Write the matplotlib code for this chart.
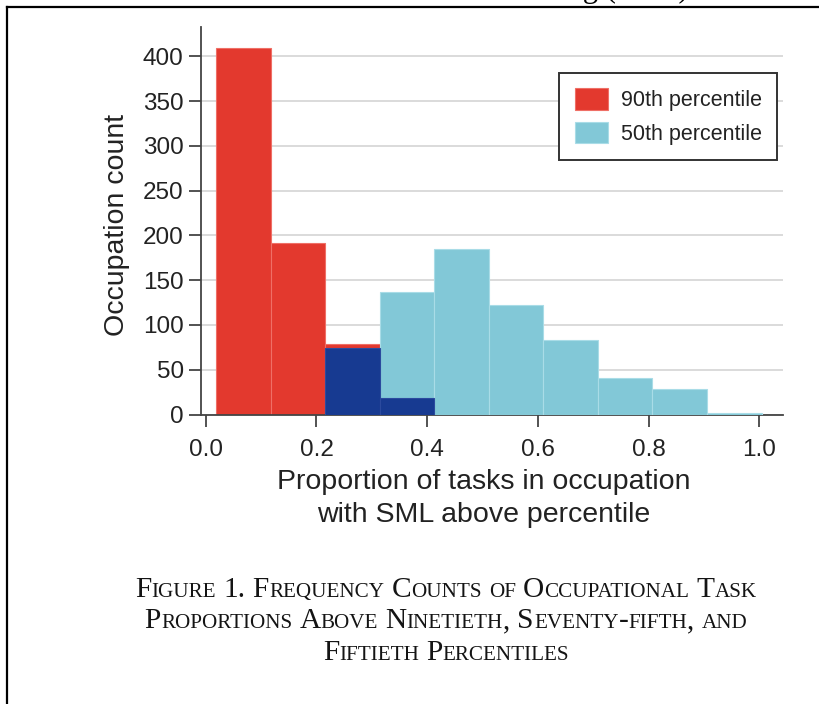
import matplotlib
matplotlib.use("Agg")
import matplotlib.pyplot as plt
from matplotlib.lines import Line2D
from matplotlib.patches import Patch
from matplotlib.transforms import IdentityTransform

# histogram bins (proportion of tasks) and occupation counts per bin
bin_edges = [0.018, 0.117, 0.216, 0.315, 0.413, 0.512, 0.610, 0.709, 0.807, 0.906, 1.005]
counts_90 = [409, 192, 79, 0, 0, 0, 0, 0, 0, 0]
counts_75 = [0, 0, 74, 18, 0, 0, 0, 0, 0, 0]
counts_50 = [0, 0, 0, 137, 185, 122, 83, 41, 28, 2]

x_ticks = [0.0, 0.2, 0.4, 0.6, 0.8, 1.0]
y_ticks = [0, 50, 100, 150, 200, 250, 300, 350, 400]

RED = "#e3392e"
LIGHT_BLUE = "#82c8d7"
DARK_BLUE = "#173a91"
INK = "#222222"

plt.rcParams["font.family"] = ["Liberation Sans", "DejaVu Sans"]

W, H = 820, 704
fig = plt.figure(figsize=(W / 100, H / 100), dpi=100)
ax = fig.add_axes([201 / W, (H - 414.5) / H, 582 / W, 387.5 / H])


def draw_bars(counts, color, edge, z):
    lefts = [bin_edges[i] for i, c in enumerate(counts) if c > 0]
    widths = [bin_edges[i + 1] - bin_edges[i] for i, c in enumerate(counts) if c > 0]
    heights = [c for c in counts if c > 0]
    ax.bar(lefts, heights, width=widths, align="edge", color=color,
           edgecolor=edge, linewidth=0.8, zorder=z)


draw_bars(counts_90, RED, "#ef6f66", 2)
draw_bars(counts_50, LIGHT_BLUE, "#a9dce7", 3)
draw_bars(counts_75, DARK_BLUE, "#2b4a9e", 4)

ax.set_xlim(-0.0086, 1.0429)
ax.set_ylim(0, 432.7)
ax.set_xticks(x_ticks)
ax.set_xticklabels([f"{t:.1f}" for t in x_ticks])
ax.set_yticks(y_ticks)
ax.yaxis.grid(True, color="#d4d4d4", linewidth=1.2, zorder=0)
ax.set_axisbelow(True)

for side in ("top", "right"):
    ax.spines[side].set_visible(False)
for side in ("left", "bottom"):
    ax.spines[side].set_color("#444444")
    ax.spines[side].set_linewidth(1.3)
ax.tick_params(axis="both", colors="#444444", width=1.3, length=8.5,
               labelsize=17.5, labelcolor=INK)
ax.tick_params(axis="y", pad=4)
ax.tick_params(axis="x", pad=9)

ax.set_xlabel("Proportion of tasks in occupation\nwith SML above percentile",
              fontsize=20.5, color=INK, linespacing=1.36)
ax.xaxis.set_label_coords(0.486, -0.14)
ax.set_ylabel("Occupation count", fontsize=20.5, color=INK)
ax.yaxis.set_label_coords(-0.122, 0.49)

handles = [Patch(facecolor=RED, edgecolor="#ef6f66", linewidth=0.8),
           Patch(facecolor=LIGHT_BLUE, edgecolor="#a9dce7", linewidth=0.8)]
leg = ax.legend(handles, ["90th percentile", "50th percentile"],
                loc="upper right", bbox_to_anchor=(777.4 / W, 1 - 72.7 / H),
                bbox_transform=fig.transFigure, borderaxespad=0,
                fontsize=15.5, handlelength=1.55, handleheight=1.15,
                handletextpad=0.6, labelspacing=0.5, borderpad=0.72,
                fancybox=False, framealpha=1)
leg.get_frame().set_edgecolor("#333333")
leg.get_frame().set_linewidth(1.4)
for t in leg.get_texts():
    t.set_color(INK)

# page frame and running header cut off at the top edge
fig.add_artist(Line2D([7 / W, 1], [1 - 7 / H, 1 - 7 / H], transform=fig.transFigure,
                      color="black", linewidth=1.6))
fig.add_artist(Line2D([7 / W, 7 / W], [0, 1 - 7 / H], transform=fig.transFigure,
                      color="black", linewidth=1.6))
fig.text(689 / W, (H + 3) / H, "Learning (SML)", ha="right", va="baseline",
         family="Liberation Serif", fontsize=22, color="black")


def small_caps_line(text, center_x, baseline_y, big=21.2, small=15.2):
    """Draw one caption line in small caps, centred at center_x (pixels)."""
    renderer = fig.canvas.get_renderer()
    space = 0.25 * big * 100 / 72
    pieces = []
    for word in text.split(" "):
        runs = []
        for ch in word:
            size = small if ch.islower() else big
            if runs and runs[-1][1] == size:
                runs[-1][0] += ch.upper()
            else:
                runs.append([ch.upper(), size])
        word_texts = [fig.text(0, 0, s, fontsize=sz, family="Liberation Serif",
                               color="#141414", va="baseline", ha="left",
                               transform=IdentityTransform()) for s, sz in runs]
        pieces.append(word_texts)
    widths = [[t.get_window_extent(renderer).width for t in wt] for wt in pieces]
    total = sum(sum(w) for w in widths) + space * (len(pieces) - 1)
    x = center_x - total / 2
    y = H - baseline_y
    for wt, ws in zip(pieces, widths):
        for t, w in zip(wt, ws):
            t.set_position((x, y))
            x += w
        x += space


small_caps_line("Figure 1. Frequency Counts of Occupational Task", 446, 596.7)
small_caps_line("Proportions Above Ninetieth, Seventy-fifth, and", 446, 628.5)
small_caps_line("Fiftieth Percentiles", 446, 660)

fig.savefig("out.png", dpi=100)
